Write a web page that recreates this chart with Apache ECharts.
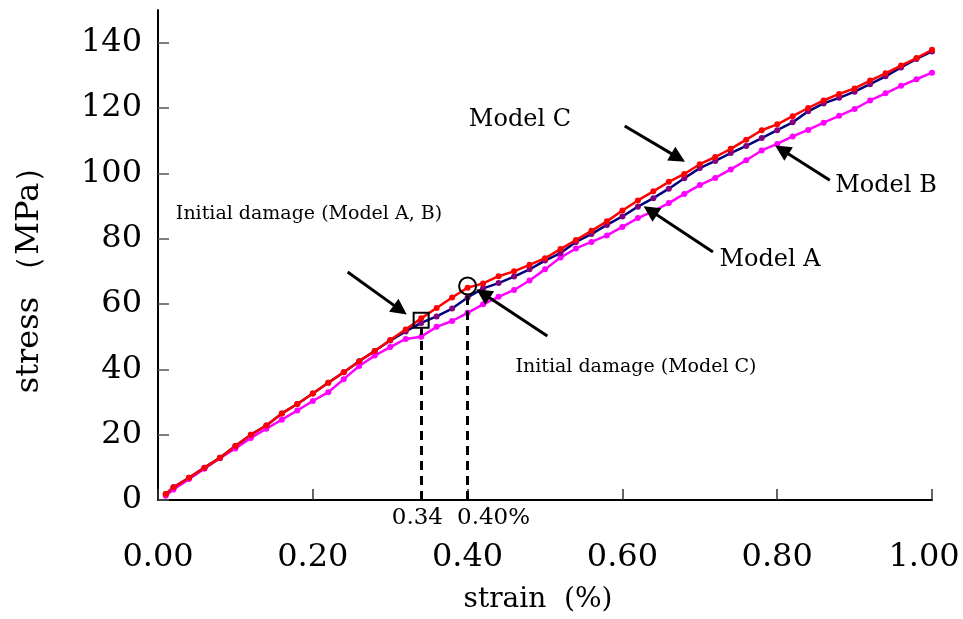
<!DOCTYPE html>
<html>
<head>
<meta charset="utf-8">
<script src="https://cdn.jsdelivr.net/npm/echarts@6/dist/echarts.min.js"></script>
<style>
  html, body { margin: 0; background: #fff; }
  #chart { width: 963px; height: 619px; }
</style>
</head>
<body>
<div id="chart"></div>
<script>
// strain (%) and stress (MPa)
const strain = [0.01, 0.02, 0.04, 0.06, 0.08, 0.10, 0.12, 0.14, 0.16, 0.18,
  0.20, 0.22, 0.24, 0.26, 0.28, 0.30, 0.32, 0.34, 0.36, 0.38,
  0.40, 0.42, 0.44, 0.46, 0.48, 0.50, 0.52, 0.54, 0.56, 0.58,
  0.60, 0.62, 0.64, 0.66, 0.68, 0.70, 0.72, 0.74, 0.76, 0.78,
  0.80, 0.82, 0.84, 0.86, 0.88, 0.90, 0.92, 0.94, 0.96, 0.98, 1.00];
const modelC = [1.8, 3.9, 6.8, 9.9, 12.9, 16.5, 20.0, 22.8, 26.5, 29.4,
  32.6, 35.9, 39.1, 42.5, 45.6, 49.0, 52.2, 55.6, 58.8, 62.0,
  65.0, 66.3, 68.5, 70.0, 72.0, 74.0, 76.8, 79.6, 82.4, 85.3,
  88.6, 91.7, 94.5, 97.4, 99.8, 102.8, 105.0, 107.5, 110.3, 113.2,
  115.0, 117.5, 120.0, 122.3, 124.3, 126.0, 128.4, 130.6, 133.0, 135.3, 137.8];
const modelA = [1.8, 3.9, 6.8, 9.9, 12.9, 16.5, 20.0, 22.8, 26.5, 29.4,
  32.6, 35.9, 39.1, 42.5, 45.6, 48.8, 51.6, 54.2, 56.2, 58.6,
  62.0, 64.8, 66.4, 68.4, 70.6, 73.3, 75.6, 79.0, 81.4, 84.2,
  86.8, 89.8, 92.4, 95.3, 98.5, 101.6, 103.8, 106.2, 108.4, 110.8,
  113.2, 115.6, 119.0, 121.4, 123.1, 125.0, 127.3, 129.7, 132.4, 135.0, 137.3];
const modelB = [1.3, 3.2, 6.4, 9.6, 12.8, 15.8, 19.0, 21.8, 24.6, 27.4,
  30.3, 33.0, 37.0, 41.0, 44.2, 46.8, 49.3, 50.0, 53.0, 54.8,
  57.3, 59.9, 62.2, 64.3, 67.2, 70.6, 74.2, 77.0, 79.0, 81.0,
  83.6, 86.3, 88.4, 90.9, 93.7, 96.4, 98.6, 101.2, 104.0, 107.0,
  109.0, 111.3, 113.3, 115.5, 117.6, 119.7, 122.3, 124.5, 126.8, 128.8, 130.8];

const yTicks = [0, 20, 40, 60, 80, 100, 120, 140];

// initial damage points: [strain, stress]
const damageAB = [0.34, 55.0];
const damageC = [0.40, 65.5];

// annotation arrows, [from, to] in data coords
const arrows = [
  [[0.603, 114.5], [0.672, 104.8]],   // Model C
  [[0.868, 97.9], [0.806, 107.2]],    // Model B
  [[0.717, 75.9], [0.636, 88.6]],     // Model A
  [[0.245, 69.8], [0.313, 58.2]],     // Initial damage (A, B)
  [[0.503, 50.2], [0.420, 63.2]]      // Initial damage (C)
];

const FONT = '"DejaVu Serif", "Liberation Serif", serif';
const pairs = ys => strain.map((x, i) => [x, ys[i]]);

const chart = echarts.init(document.getElementById('chart'));

const curve = (name, ys, lineColor, dotColor) => ({
  name: name,
  type: 'line',
  data: pairs(ys),
  symbol: 'circle',
  symbolSize: 6,
  showSymbol: true,
  lineStyle: { color: lineColor, width: 2.5 },
  itemStyle: { color: dotColor },
  z: 2
});

const option = {
  animation: false,
  backgroundColor: '#fff',
  grid: { left: 158, right: 31, top: 10, bottom: 119, containLabel: false, outerBoundsMode: 'none' },
  xAxis: {
    type: 'value',
    min: 0,
    max: 1,
    interval: 0.2,
    splitLine: { show: false },
    axisLine: { lineStyle: { color: '#000', width: 2 } },
    axisTick: { inside: true, length: 11, lineStyle: { color: '#333', width: 1.5 } },
    axisLabel: {
      margin: 42,
      color: '#000',
      fontFamily: FONT,
      fontSize: 32,
      hideOverlap: false,
      formatter: v => (v === 1 ? '{last|1.00}' : v.toFixed(2)),
      rich: {
        last: { fontFamily: FONT, fontSize: 32, color: '#000', padding: [0, 16, 0, 0] }
      }
    }
  },
  yAxis: {
    type: 'value',
    min: 0,
    max: 150,
    splitLine: { show: false },
    axisLine: { onZero: false, lineStyle: { color: '#000', width: 2 } },
    axisTick: { inside: true, length: 11, customValues: yTicks, lineStyle: { color: '#555', width: 1.5 } },
    axisLabel: {
      margin: 16,
      color: '#000',
      fontFamily: FONT,
      fontSize: 32,
      customValues: yTicks
    }
  },
  series: [
    curve('Model B', modelB, '#ff00ff', '#ff00ff'),
    curve('Model A', modelA, '#000080', '#800080'),
    curve('Model C', modelC, '#ff0000', '#ff0000'),
    {
      name: 'notes',
      type: 'line',
      data: [],
      z: 5,
      markLine: {
        silent: true,
        symbol: ['none', 'triangle'],
        symbolSize: 16,
        label: { show: false },
        itemStyle: { color: '#000' },
        lineStyle: { color: '#000', width: 3, type: 'solid' },
        data: arrows.map(a => [{ coord: a[0] }, { coord: a[1] }])
      },
      markPoint: {
        silent: true,
        label: { show: false },
        data: [
          { coord: damageAB, symbol: 'rect', symbolSize: 15,
            itemStyle: { color: 'rgba(0,0,0,0)', borderColor: '#000', borderWidth: 2 } },
          { coord: damageC, symbol: 'circle', symbolSize: 17,
            itemStyle: { color: 'rgba(0,0,0,0)', borderColor: '#000', borderWidth: 2 } }
        ]
      }
    },
    {
      name: 'drops',
      type: 'line',
      data: [],
      z: 4,
      markLine: {
        silent: true,
        symbol: ['none', 'none'],
        label: { show: false },
        lineStyle: { color: '#000', width: 3, type: [9, 6] },
        data: [
          [{ coord: [damageAB[0], 0] }, { coord: [damageAB[0], 52.6] }],
          [{ coord: [damageC[0], 0] }, { coord: [damageC[0], 63.4] }]
        ]
      }
    }
  ],
  graphic: [
    { type: 'text', x: 30, y: 272, rotation: Math.PI / 2,
      style: { text: 'stress （MPa）', font: '32px ' + FONT, fill: '#000', textAlign: 'center', textVerticalAlign: 'middle' } },
    { type: 'text', x: 538, y: 600,
      style: { text: 'strain  (%)', font: '28px ' + FONT, fill: '#000', textAlign: 'center', textVerticalAlign: 'middle' } },
    { type: 'text', x: 520, y: 120,
      style: { text: 'Model C', font: '24px ' + FONT, fill: '#000', textAlign: 'center', textVerticalAlign: 'middle' } },
    { type: 'text', x: 886, y: 186,
      style: { text: 'Model B', font: '24px ' + FONT, fill: '#000', textAlign: 'center', textVerticalAlign: 'middle' } },
    { type: 'text', x: 770, y: 260,
      style: { text: 'Model A', font: '24px ' + FONT, fill: '#000', textAlign: 'center', textVerticalAlign: 'middle' } },
    { type: 'text', x: 309, y: 214,
      style: { text: 'Initial damage (Model A, B)', font: '19px ' + FONT, fill: '#000', textAlign: 'center', textVerticalAlign: 'middle' } },
    { type: 'text', x: 636, y: 367,
      style: { text: 'Initial damage (Model C)', font: '19px ' + FONT, fill: '#000', textAlign: 'center', textVerticalAlign: 'middle' } },
    { type: 'text', x: 443, y: 518,
      style: { text: '0.34', font: '23px ' + FONT, fill: '#000', textAlign: 'right', textVerticalAlign: 'middle' } },
    { type: 'text', x: 457, y: 518,
      style: { text: '0.40%', font: '23px ' + FONT, fill: '#000', textAlign: 'left', textVerticalAlign: 'middle' } }
  ]
};

chart.setOption(option);
window.addEventListener('resize', () => chart.resize());
</script>
</body>
</html>
